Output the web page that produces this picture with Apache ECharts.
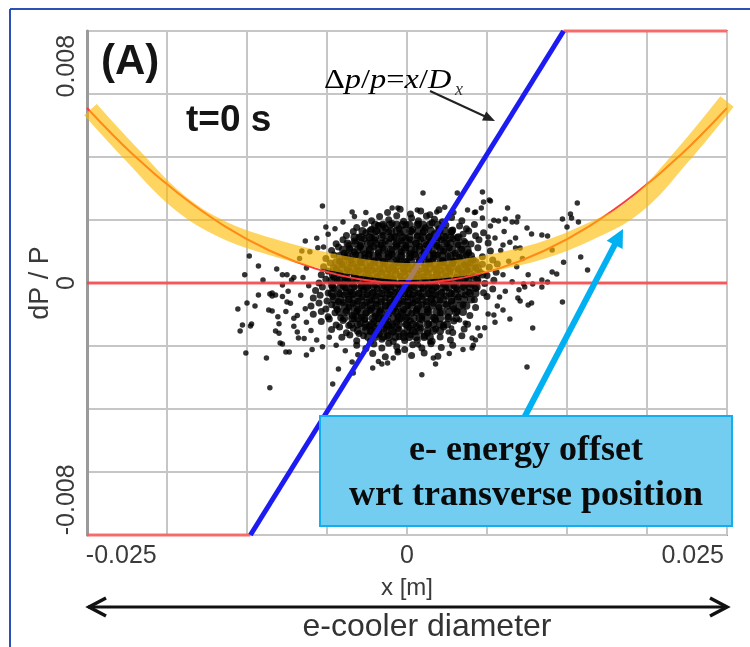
<!DOCTYPE html>
<html><head><meta charset="utf-8">
<script src="https://cdn.jsdelivr.net/npm/echarts@6/dist/echarts.min.js"></script>
<style>html,body{margin:0;padding:0;background:#fff}#c{width:750px;height:647px}</style>
</head><body><div id="c"></div>
<script>
// ---- axes ----
const xRange = [-0.028, 0.028];
const yRange = [-0.0093, 0.0093];
const xTicks = [-0.025, 0, 0.025];
const yTicks = [-0.008, 0, 0.008];
// ---- dispersion line dp/p = x/Dx (clipped at plot range) ----
const dispX = [-0.0137, 0.0137];
const dispY = [-0.0093, 0.0093];
const clampLowX = [-0.028, -0.0137];
const clampHighX = [0.0137, 0.028];
const zeroX = [-0.028, 0.028];
// ---- parabola (thin red) ----
const parabX = [-0.028,-0.024,-0.020,-0.016,-0.012,-0.008,-0.004,0,0.004,0.008,0.012,0.016,0.020,0.024,0.028];
const parabY = [0.00646,0.00475,0.0033,0.00211,0.00119,0.00053,0.00013,0,0.00013,0.00053,0.00119,0.00211,0.0033,0.00475,0.00646];
// ---- highlighted band (yellow) ----
const bandX = [-0.0277,-0.024,-0.020,-0.016,-0.012,-0.008,-0.004,0,0.004,0.008,0.012,0.016,0.020,0.024,0.028];
const bandY = [0.0064,0.0047,0.0030,0.00195,0.00135,0.0009,0.00058,0.00042,0.00052,0.0008,0.00122,0.0019,0.00285,0.00465,0.0067];
// ---- particle cloud, x in mm, dP/P in 1e-3 ----
const cloudCore = [
[-1.7,2.6],[-0.6,2.72],[0.3,2.55],[1.2,2.66],[2.0,2.52],[2.8,2.7],
[-3.1,2.3],[-2.4,2.45],[-1.6,2.33],[-0.9,2.48],[-0.3,2.28],[0.4,2.4],[1.0,2.3],[1.7,2.47],[2.4,2.35],[3.1,2.26],[3.9,2.42],[4.8,2.3],
[-4.4,2.05],[-3.7,2.2],[-3.1,1.98],[-2.5,2.12],[-1.9,2.02],[-1.3,2.2],[-0.7,2.0],[-0.1,2.15],[0.5,1.97],[1.0,2.18],[1.6,2.04],[2.2,2.22],[2.8,2.0],[3.4,2.14],[4.0,1.96],[4.6,2.1],[5.2,2.0],[5.9,2.16],
[-5.3,1.75],[-4.7,1.9],[-4.2,1.7],[-3.6,1.85],[-3.1,1.68],[-2.6,1.92],[-2.1,1.76],[-1.6,1.88],[-1.1,1.7],[-0.6,1.84],[-0.1,1.67],[0.4,1.9],[0.9,1.74],[1.4,1.86],[1.9,1.69],[2.4,1.82],[2.9,1.93],[3.4,1.72],[3.9,1.87],[4.4,1.68],[4.9,1.8],[5.4,1.92],[6.0,1.74],[6.7,1.85],
[-6.2,1.45],[-5.6,1.6],[-5.1,1.4],[-4.6,1.55],[-4.1,1.38],[-3.7,1.63],[-3.2,1.47],[-2.8,1.58],[-2.3,1.4],[-1.9,1.54],[-1.4,1.64],[-1.0,1.43],[-0.5,1.57],[-0.1,1.39],[0.3,1.6],[0.8,1.46],[1.2,1.62],[1.7,1.41],[2.1,1.55],[2.6,1.38],[3.0,1.6],[3.5,1.47],[4.0,1.63],[4.5,1.4],[5.0,1.54],[5.6,1.44],[6.3,1.6],[7.1,1.48],
[-6.6,1.2],[-6.0,1.33],[-5.5,1.1],[-5.0,1.27],[-4.6,1.14],[-4.1,1.32],[-3.7,1.08],[-3.3,1.24],[-2.9,1.35],[-2.5,1.12],[-2.1,1.28],[-1.7,1.09],[-1.3,1.22],[-0.9,1.36],[-0.5,1.15],[-0.1,1.3],[0.3,1.1],[0.7,1.25],[1.1,1.36],[1.5,1.13],[1.9,1.27],[2.3,1.08],[2.8,1.32],[3.2,1.17],[3.7,1.3],[4.2,1.1],[4.8,1.25],[5.4,1.12],[6.2,1.3],[7.3,1.18],
[-7.1,0.9],[-6.4,1.03],[-5.9,0.8],[-5.4,0.97],[-4.9,0.84],[-4.5,1.04],[-4.1,0.78],[-3.7,0.93],[-3.3,1.05],[-2.9,0.82],[-2.5,0.98],[-2.1,0.8],[-1.7,0.95],[-1.3,1.06],[-0.9,0.85],[-0.5,1.0],[-0.1,0.79],[0.3,0.94],[0.7,1.05],[1.1,0.83],[1.5,0.99],[1.9,0.78],[2.3,0.92],[2.7,1.04],[3.1,0.84],[3.6,0.98],[4.1,0.8],[4.6,0.95],[5.2,1.03],[5.8,0.86],[6.6,0.97],[7.5,0.85],
[-7.3,0.6],[-6.7,0.74],[-6.2,0.52],[-5.7,0.68],[-5.2,0.5],[-4.8,0.72],[-4.4,0.57],[-4.0,0.75],[-3.6,0.49],[-3.2,0.64],[-2.8,0.76],[-2.4,0.53],[-2.0,0.69],[-1.6,0.5],[-1.2,0.62],[-0.8,0.75],[-0.4,0.55],[0.0,0.7],[0.4,0.49],[0.8,0.63],[1.2,0.76],[1.6,0.54],[2.0,0.7],[2.4,0.5],[2.8,0.65],[3.2,0.77],[3.6,0.56],[4.0,0.71],[4.5,0.51],[5.0,0.66],[5.5,0.74],[6.0,0.55],[6.6,0.69],[7.2,0.58],[7.9,0.7],
[-7.5,0.3],[-6.9,0.44],[-6.4,0.22],[-5.9,0.38],[-5.4,0.2],[-5.0,0.42],[-4.6,0.27],[-4.2,0.46],[-3.8,0.19],[-3.4,0.34],[-3.0,0.47],[-2.6,0.24],[-2.2,0.4],[-1.8,0.2],[-1.4,0.33],[-1.0,0.46],[-0.6,0.25],[-0.2,0.41],[0.2,0.19],[0.6,0.35],[1.0,0.47],[1.4,0.23],[1.8,0.39],[2.2,0.2],[2.6,0.34],[3.0,0.46],[3.4,0.26],[3.8,0.42],[4.3,0.21],[4.8,0.37],[5.3,0.46],[5.8,0.25],[6.4,0.4],[7.0,0.28],[7.8,0.4],
[-7.7,0.0],[-7.1,0.14],[-6.6,-0.08],[-6.1,0.08],[-5.6,-0.1],[-5.2,0.12],[-4.8,-0.03],[-4.4,0.16],[-4.0,-0.11],[-3.6,0.04],[-3.2,0.17],[-2.8,-0.06],[-2.4,0.1],[-2.0,-0.1],[-1.6,0.03],[-1.2,0.16],[-0.8,-0.05],[-0.4,0.11],[0.0,-0.1],[0.4,0.05],[0.8,0.17],[1.2,-0.07],[1.6,0.09],[2.0,-0.1],[2.4,0.04],[2.8,0.16],[3.2,-0.04],[3.6,0.12],[4.1,-0.09],[4.6,0.07],[5.1,0.16],[5.6,-0.05],[6.2,0.1],[6.8,-0.02],[7.6,0.1],
[-8.0,-0.28],[-7.4,-0.15],[-6.9,-0.37],[-6.4,-0.2],[-5.9,-0.4],[-5.4,-0.18],[-5.0,-0.33],[-4.6,-0.13],[-4.2,-0.39],[-3.8,-0.25],[-3.4,-0.12],[-3.0,-0.36],[-2.6,-0.2],[-2.2,-0.4],[-1.8,-0.27],[-1.4,-0.14],[-1.0,-0.35],[-0.6,-0.19],[-0.2,-0.4],[0.2,-0.26],[0.6,-0.13],[1.0,-0.37],[1.4,-0.21],[1.8,-0.4],[2.2,-0.27],[2.6,-0.14],[3.0,-0.35],[3.4,-0.18],[3.9,-0.39],[4.4,-0.24],[4.9,-0.13],[5.4,-0.34],[6.0,-0.2],[6.7,-0.36],[7.5,-0.22],
[-8.2,-0.55],[-7.6,-0.45],[-7.0,-0.66],[-6.5,-0.5],[-6.0,-0.68],[-5.5,-0.44],[-5.1,-0.6],[-4.7,-0.42],[-4.3,-0.67],[-3.9,-0.52],[-3.5,-0.43],[-3.1,-0.64],[-2.7,-0.48],[-2.3,-0.69],[-1.9,-0.55],[-1.5,-0.42],[-1.1,-0.62],[-0.7,-0.47],[-0.3,-0.68],[0.1,-0.53],[0.5,-0.43],[0.9,-0.65],[1.3,-0.5],[1.7,-0.69],[2.1,-0.56],[2.5,-0.44],[2.9,-0.63],[3.4,-0.48],[3.9,-0.67],[4.5,-0.52],[5.1,-0.44],[5.9,-0.62],[7.0,-0.5],
[-8.4,-0.85],[-7.7,-0.74],[-7.1,-0.96],[-6.6,-0.8],[-6.1,-0.98],[-5.6,-0.72],[-5.1,-0.9],[-4.7,-0.76],[-4.3,-0.97],[-3.9,-0.83],[-3.5,-0.71],[-3.1,-0.93],[-2.7,-0.78],[-2.3,-0.99],[-1.9,-0.84],[-1.5,-0.72],[-1.1,-0.92],[-0.7,-0.77],[-0.3,-0.98],[0.1,-0.82],[0.5,-0.73],[0.9,-0.95],[1.3,-0.8],[1.8,-0.97],[2.3,-0.75],[2.8,-0.9],[3.4,-0.78],[4.1,-0.95],[4.9,-0.8],[6.0,-0.9],
[-8.2,-1.15],[-7.5,-1.05],[-6.9,-1.25],[-6.3,-1.1],[-5.8,-1.28],[-5.3,-1.02],[-4.8,-1.2],[-4.4,-1.06],[-4.0,-1.27],[-3.6,-1.12],[-3.2,-1.01],[-2.8,-1.22],[-2.4,-1.08],[-2.0,-1.28],[-1.6,-1.14],[-1.2,-1.03],[-0.8,-1.24],[-0.4,-1.09],[0.0,-1.27],[0.4,-1.12],[0.8,-1.02],[1.3,-1.23],[1.8,-1.08],[2.3,-1.26],[2.9,-1.1],[3.6,-1.25],[4.4,-1.05],[5.5,-1.2],
[-7.5,-1.42],[-6.8,-1.33],[-6.2,-1.55],[-5.6,-1.38],[-5.1,-1.57],[-4.6,-1.32],[-4.1,-1.5],[-3.7,-1.36],[-3.3,-1.58],[-2.9,-1.43],[-2.5,-1.31],[-2.1,-1.52],[-1.7,-1.38],[-1.3,-1.58],[-0.9,-1.44],[-0.5,-1.32],[-0.1,-1.54],[0.3,-1.39],[0.8,-1.57],[1.3,-1.35],[1.9,-1.5],[2.5,-1.37],[3.2,-1.55],[4.1,-1.4],[5.3,-1.52],
[-6.6,-1.72],[-5.9,-1.62],[-5.3,-1.84],[-4.7,-1.67],[-4.2,-1.86],[-3.7,-1.63],[-3.2,-1.79],[-2.8,-1.65],[-2.4,-1.87],[-2.0,-1.71],[-1.6,-1.6],[-1.2,-1.82],[-0.8,-1.68],[-0.3,-1.86],[0.2,-1.64],[0.7,-1.8],[1.2,-1.66],[1.8,-1.85],[2.5,-1.7],[3.2,-1.62],[4.0,-1.83],[5.0,-1.7],
[-5.7,-2.0],[-5.0,-1.92],[-4.4,-2.13],[-3.8,-1.95],[-3.2,-2.15],[-2.7,-1.9],[-2.2,-2.08],[-1.7,-1.94],[-1.2,-2.16],[-0.7,-1.98],[-0.2,-2.12],[0.3,-1.91],[0.9,-2.1],[1.5,-1.96],[2.2,-2.15],[2.9,-1.99],[3.8,-2.1],[4.8,-1.95],
[-4.4,-2.3],[-3.6,-2.42],[-2.9,-2.25],[-2.2,-2.4],[-1.6,-2.22],[-0.9,-2.35],[-0.2,-2.45],[0.5,-2.28],[1.3,-2.4],[2.1,-2.24],[3.0,-2.38],[4.0,-2.3],
[-3.0,-2.6],[-1.9,-2.72],[-0.8,-2.55],[0.4,-2.68],[1.5,-2.58],[2.7,-2.7]
];
// dense centre of the cloud: rows of [dP/P, [x positions]]
const cloudInnerRows = [
 [2.15, [-2.8,-2.1,-1.5,-0.9,-0.4,0.2,0.9,1.4,2.0,2.7]],
 [1.92, [-3.9,-3.2,-2.7,-2.1,-1.4,-0.9,-0.3,0.3,1.0,1.5,2.1,2.8,3.3,3.9]],
 [1.69, [-4.6,-4.0,-3.3,-2.8,-2.2,-1.5,-1.0,-0.4,0.2,0.9,1.4,2.0,2.7,3.2,3.8,4.5]],
 [1.46, [-5.2,-4.5,-4.0,-3.4,-2.7,-2.2,-1.6,-0.9,-0.4,0.2,0.8,1.5,2.0,2.6,3.3,3.8,4.4,5.1]],
 [1.23, [-5.6,-5.0,-4.3,-3.8,-3.2,-2.5,-2.0,-1.4,-0.7,-0.2,0.4,1.1,1.6,2.2,2.9,3.4,4.0,4.7,5.3]],
 [1.00, [-5.9,-5.2,-4.7,-4.1,-3.4,-2.9,-2.3,-1.6,-1.1,-0.5,0.2,0.7,1.3,2.0,2.5,3.1,3.8,4.3,4.9,5.6]],
 [0.77, [-6.2,-5.6,-5.0,-4.3,-3.8,-3.2,-2.5,-2.0,-1.4,-0.7,-0.2,0.4,1.1,1.6,2.2,2.9,3.4,4.0,4.7,5.3,6.0]],
 [0.54, [-6.4,-5.7,-5.2,-4.6,-3.9,-3.4,-2.8,-2.1,-1.6,-1.0,-0.3,0.2,0.8,1.5,2.0,2.6,3.3,3.8,4.4,5.1,5.6,6.2]],
 [0.31, [-6.5,-5.9,-5.3,-4.6,-4.1,-3.5,-2.8,-2.3,-1.7,-1.0,-0.5,0.1,0.8,1.3,1.9,2.6,3.1,3.7,4.4,4.9,5.5,6.1,6.6]],
 [0.08, [-6.6,-5.9,-5.4,-4.8,-4.1,-3.6,-3.0,-2.3,-1.8,-1.2,-0.5,0.0,0.6,1.3,1.8,2.4,3.1,3.6,4.2,4.9,5.4,6.1]],
 [-0.15, [-6.5,-5.8,-5.3,-4.7,-4.0,-3.5,-2.9,-2.2,-1.7,-1.1,-0.4,0.1,0.7,1.4,1.9,2.5,3.2,3.7,4.3,5.0,5.5,6.1]],
 [-0.38, [-6.6,-6.0,-5.3,-4.8,-4.2,-3.5,-3.0,-2.4,-1.7,-1.2,-0.6,0.1,0.6,1.2,1.9,2.4,3.0,3.7,4.2,4.8,5.5,6.0]],
 [-0.61, [-6.4,-5.8,-5.1,-4.6,-4.0,-3.3,-2.8,-2.2,-1.5,-1.0,-0.4,0.3,0.8,1.4,2.1,2.6,3.2,3.9,4.4,5.0,5.6]],
 [-0.84, [-6.2,-5.5,-5.0,-4.4,-3.7,-3.2,-2.6,-1.9,-1.4,-0.8,-0.1,0.4,1.0,1.7,2.2,2.8,3.5,4.0,4.6,5.2]],
 [-1.07, [-5.9,-5.3,-4.6,-4.1,-3.5,-2.8,-2.3,-1.7,-1.0,-0.5,0.1,0.8,1.3,1.9,2.6,3.1,3.7,4.3,4.9]],
 [-1.30, [-5.5,-4.8,-4.3,-3.7,-3.0,-2.5,-1.9,-1.2,-0.7,-0.1,0.6,1.1,1.7,2.4,2.9,3.6,4.3]],
 [-1.53, [-4.9,-4.3,-3.6,-3.1,-2.5,-1.8,-1.3,-0.7,0.0,0.5,1.1,1.8,2.3,2.9,3.5]],
 [-1.76, [-4.3,-3.6,-3.1,-2.5,-1.8,-1.3,-0.7,0.0,0.5,1.1,1.8,2.3,2.9]],
 [-1.99, [-3.4,-2.8,-2.1,-1.6,-1.0,-0.3,0.2,0.8,1.5,2.0]]
];
const cloudFringe = [
[-9.4,0.9],[-8.8,0.55],[-9.9,0.2],[-8.6,-0.1],[-9.3,-0.45],[-10.2,-0.75],[-8.9,-0.95],[-9.6,-1.2],[-8.8,-1.45],[-9.9,-1.6],[-8.4,-1.75],[-9.0,-2.05],[-7.9,-2.1],[-7.4,-2.35],[-8.3,-2.45],[-10.6,-1.05],[-10.4,-0.3],[-9.1,0.2],[-8.5,1.15],[-7.8,1.3],[-7.9,1.65],[-6.9,1.8],[-6.3,2.0],[-5.6,2.25],[-4.6,2.45],[-3.6,2.6],[-6.8,-2.0],[-6.2,-2.3],[-5.4,-2.5],[-4.3,-2.65],[-2.5,-2.9],[-9.9,-1.3],[-10.9,-0.5],[-11.2,-1.5],
[8.5,1.9],[8.2,1.2],[8.9,0.8],[8.4,0.3],[9.2,0.05],[8.6,-0.3],[7.9,-0.85],[8.4,-1.0],[7.7,-1.45],[6.8,-1.65],[6.4,-1.95],[5.8,-2.3],[4.9,-2.45],[3.7,-2.6],[7.3,2.1],[6.6,2.4],[5.9,2.6],[4.1,2.6],[3.3,2.8],[9.6,0.6],[10.1,0.9],[9.0,1.5],[9.8,-0.25],[10.6,0.3]
];
const cloudOutliers = [
[-7.4,2.84],[-4.8,2.62],[-7.1,2.07],[-7.3,1.33],[-8.9,1.55],[-9.2,1.18],[-13.8,1.0],[-13.0,0.63],[-14.2,0.3],[-11.4,0.52],[-10.9,0.3],[-10.5,0.3],[-12.6,0.11],[-10.1,0.11],[-13.0,-0.44],[-11.8,-0.37],[-11.5,-0.44],[-10.9,-0.07],[-1.3,2.77],[-0.8,2.77],[-2.5,2.14],[-2.1,2.14],[-14.8,-0.96],[-14.0,-0.74],[-14.4,-1.55],[-14.6,-1.77],[-13.6,-1.51],[-13.7,-1.59],[-13.3,-0.85],[-12.0,-0.41],[-11.8,-0.48],[-12.1,-1.0],[-11.8,-1.03],[-11.3,-1.25],[-11.5,-1.77],[-11.2,-1.85],[-11.1,-2.21],[-10.9,-2.25],[-14.1,-2.58],[-12.3,-2.77],[-10.6,-2.55],[-10.3,-2.55],[-8.8,-2.66],[-6.0,-3.17],[-4.8,-2.92],[-10.5,-0.7],[-9.6,-1.81],[-9.5,-2.03],[-6.5,-3.73],[-12.0,-3.87],[-4.7,-3.32],[-3.0,-3.14],[-2.2,-2.99],[-1.7,-2.95],[-1.2,-2.77],[-0.8,-2.51],
[8.1,-0.52],[9.7,-0.55],[9.9,-0.66],[10.6,-0.81],[10.9,-0.74],[13.6,-0.7],[9.0,-1.33],[11.0,-1.66],[7.6,-1.18],[7.1,-1.14],[5.7,-2.03],[6.0,-2.1],[5.7,-2.4],[6.2,-1.66],[5.1,-1.48],[4.6,-1.37],[2.3,-2.77],[2.5,-2.99],[1.3,-3.39],[10.5,-3.1],[2.0,-2.18],[1.0,-2.29],[3.6,-1.81],[3.9,-1.66],[7.2,3.06],[0.9,2.69],[2.6,2.62],[5.3,2.69],[6.0,2.62],[6.5,2.77],[8.8,2.77],[14.9,2.95],[14.3,2.55],[14.4,2.4],[13.6,2.36],[15.0,2.25],[14.0,2.07],[7.6,2.32],[8.0,2.29],[8.6,2.36],[9.2,2.25],[9.7,2.44],[9.6,2.25],[10.5,2.03],[10.9,1.81],[11.8,1.77],[12.3,1.73],[12.7,1.22],[8.4,1.4],[9.5,1.29],[9.9,1.29],[15.2,0.96],[15.8,0.48],[13.7,0.77],[12.7,0.41],[13.1,0.33],[11.8,0.11],[12.3,0.04],[11.8,-0.15],[11.0,-0.04],[10.2,-0.04],[10.3,-0.15],[6.7,2.99],[9.5,1.66],[7.1,1.7],[7.7,1.66],[1.4,3.32],[6.6,3.36],[4.4,3.32],[7.3,3.03]
];

const toSI = arr => arr.map(p => [p[0] / 1000, p[1] / 1000]);
const rowsToSI = rows => rows.flatMap(r => r[1].map(x => [x / 1000, r[0] / 1000]));
const zip = (xs, ys) => xs.map((x, i) => [x, ys[i]]);

const chart = echarts.init(document.getElementById('c'), null, {renderer: 'canvas'});

function arrowHead(tip, from, len, half, color) {
  const dx = tip[0] - from[0], dy = tip[1] - from[1];
  const L = Math.hypot(dx, dy), ux = dx / L, uy = dy / L;
  const bx = tip[0] - ux * len, by = tip[1] - uy * len;
  return {type: 'polygon', z: 101, shape: {points: [tip, [bx - uy * half, by + ux * half], [bx + uy * half, by - ux * half]]}, style: {fill: color}};
}
function shorten(from, tip, len) {
  const dx = tip[0] - from[0], dy = tip[1] - from[1];
  const L = Math.hypot(dx, dy);
  return [tip[0] - dx / L * len, tip[1] - dy / L * len];
}
const fArrowFrom = [430, 91], fArrowTip = [495, 121];
const cArrowFrom = [524, 418], cArrowTip = [623, 229];

const lineBase = {type: 'line', showSymbol: false, symbol: 'none', clip: false, silent: true};

chart.setOption({
  animation: false,
  backgroundColor: '#fff',
  grid: {left: 87, top: 31, width: 640, height: 504, show: true, borderColor: '#9a9a9a', borderWidth: 2, backgroundColor: 'transparent'},
  xAxis: {
    type: 'value', min: xRange[0], max: xRange[1], interval: 0.007,
    axisLine: {show: false}, axisTick: {show: false},
    splitLine: {show: true, lineStyle: {color: '#c6c6c6', width: 2}},
    axisLabel: {customValues: xTicks, fontFamily: 'Liberation Sans', fontSize: 25, color: '#3a3a3a', margin: 9, formatter: v => String(v)},
    name: 'x [m]', nameLocation: 'middle', nameGap: 41,
    nameTextStyle: {fontFamily: 'Liberation Sans', fontSize: 24, color: '#3a3a3a'}
  },
  yAxis: {
    type: 'value', min: yRange[0], max: yRange[1], interval: 0.002325,
    axisLine: {show: true, onZero: false, lineStyle: {color: '#9a9a9a', width: 3}}, axisTick: {show: false},
    splitLine: {show: true, lineStyle: {color: '#c6c6c6', width: 2}},
    axisLabel: {customValues: yTicks, rotate: 90, fontFamily: 'Liberation Sans', fontSize: 25, color: '#3a3a3a', margin: 7, formatter: v => String(v)},
    name: 'dP / P', nameLocation: 'middle', nameGap: 33, nameMoveOverlap: false,
    nameTextStyle: {fontFamily: 'Liberation Sans', fontSize: 27, color: '#3a3a3a'}
  },
  series: [
    {type: 'scatter', data: toSI(cloudOutliers).concat(toSI(cloudFringe)), symbolSize: 5.5, itemStyle: {color: '#000'}, silent: true},
    {type: 'scatter', data: toSI(cloudCore), symbolSize: 7, itemStyle: {color: '#000'}, silent: true},
    {type: 'scatter', data: rowsToSI(cloudInnerRows), symbolSize: 8, itemStyle: {color: '#000'}, silent: true},
    Object.assign({}, lineBase, {data: zip(zeroX, [0, 0]), lineStyle: {color: 'rgba(255,60,60,0.8)', width: 3}}),
    Object.assign({}, lineBase, {data: zip(clampLowX, [yRange[0], yRange[0]]), lineStyle: {color: 'rgba(255,90,90,0.85)', width: 3}}),
    Object.assign({}, lineBase, {data: zip(clampHighX, [yRange[1], yRange[1]]), lineStyle: {color: 'rgba(255,90,90,0.85)', width: 3}}),
    Object.assign({}, lineBase, {data: zip(dispX, dispY), lineStyle: {color: '#1c1cf2', width: 5}}),
    Object.assign({}, lineBase, {data: zip(parabX, parabY), smooth: 0.4, lineStyle: {color: '#ff3a3a', width: 2}}),
    Object.assign({}, lineBase, {data: zip(bandX, bandY), smooth: 0.4, lineStyle: {color: 'rgba(255,188,0,0.62)', width: 17, cap: 'butt'}})
  ],
  graphic: [
    {type: 'line', z: 100, shape: {x1: 10, y1: 9, x2: 750, y2: 9}, style: {stroke: '#2d4fb8', lineWidth: 2}},
    {type: 'line', z: 100, shape: {x1: 10, y1: 9, x2: 10, y2: 647}, style: {stroke: '#2d4fb8', lineWidth: 2}},
    {type: 'text', z: 100, x: 101, y: 62, style: {text: '(A)', font: 'bold 42px "Liberation Sans"', fill: '#151515', align: 'left', verticalAlign: 'middle'}},
    {type: 'text', z: 100, x: 186, y: 121, style: {text: 't=0 s', font: 'bold 37px "Liberation Sans"', fill: '#151515', align: 'left', verticalAlign: 'middle'}},
    {type: 'text', z: 100, x: 324, y: 81, scaleX: 1.2, style: {
      text: '{u|Δ}{i|p}{u|/}{i|p}{u|=}{i|x}{u|/}{i|D}', align: 'left', verticalAlign: 'middle',
      rich: {u: {fontFamily: 'Liberation Serif', fontSize: 27, color: '#333'}, i: {fontFamily: 'Liberation Serif', fontStyle: 'italic', fontSize: 27, color: '#333'}}}},
    {type: 'text', z: 100, x: 455, y: 90, style: {text: 'x', font: 'italic 18px "Liberation Serif"', fill: '#333', align: 'left', verticalAlign: 'middle'}},
    {type: 'line', z: 100, shape: {x1: fArrowFrom[0], y1: fArrowFrom[1], x2: shorten(fArrowFrom, fArrowTip, 9)[0], y2: shorten(fArrowFrom, fArrowTip, 9)[1]}, style: {stroke: '#222', lineWidth: 2}},
    arrowHead(fArrowTip, fArrowFrom, 12, 5, '#222'),
    {type: 'line', z: 100, shape: {x1: cArrowFrom[0], y1: cArrowFrom[1], x2: shorten(cArrowFrom, cArrowTip, 12)[0], y2: shorten(cArrowFrom, cArrowTip, 12)[1]}, style: {stroke: '#00b0f0', lineWidth: 6}},
    arrowHead(cArrowTip, cArrowFrom, 18, 9, '#00b0f0'),
    {type: 'rect', z: 102, shape: {x: 320, y: 416, width: 412, height: 110}, style: {fill: '#72cdf0', stroke: '#12aef0', lineWidth: 2}},
    {type: 'text', z: 103, x: 526, y: 451, style: {text: 'e- energy offset', font: 'bold 36px "Liberation Serif"', fill: '#0a0a0a', align: 'center', verticalAlign: 'middle'}},
    {type: 'text', z: 103, x: 526, y: 496, style: {text: 'wrt transverse position', font: 'bold 36px "Liberation Serif"', fill: '#0a0a0a', align: 'center', verticalAlign: 'middle'}},
    {type: 'polyline', z: 100, shape: {points: [[88, 607], [727, 607]]}, style: {stroke: '#111', lineWidth: 3}},
    {type: 'polyline', z: 100, shape: {points: [[106, 598], [89, 607], [106, 616]]}, style: {stroke: '#111', lineWidth: 3.5, fill: null}},
    {type: 'polyline', z: 100, shape: {points: [[710, 598], [727, 607], [710, 616]]}, style: {stroke: '#111', lineWidth: 3.5, fill: null}},
    {type: 'text', z: 100, x: 427, y: 627, style: {text: 'e-cooler diameter', font: '32px "Liberation Sans"', fill: '#333', align: 'center', verticalAlign: 'middle'}}
  ]
});
</script></body></html>
